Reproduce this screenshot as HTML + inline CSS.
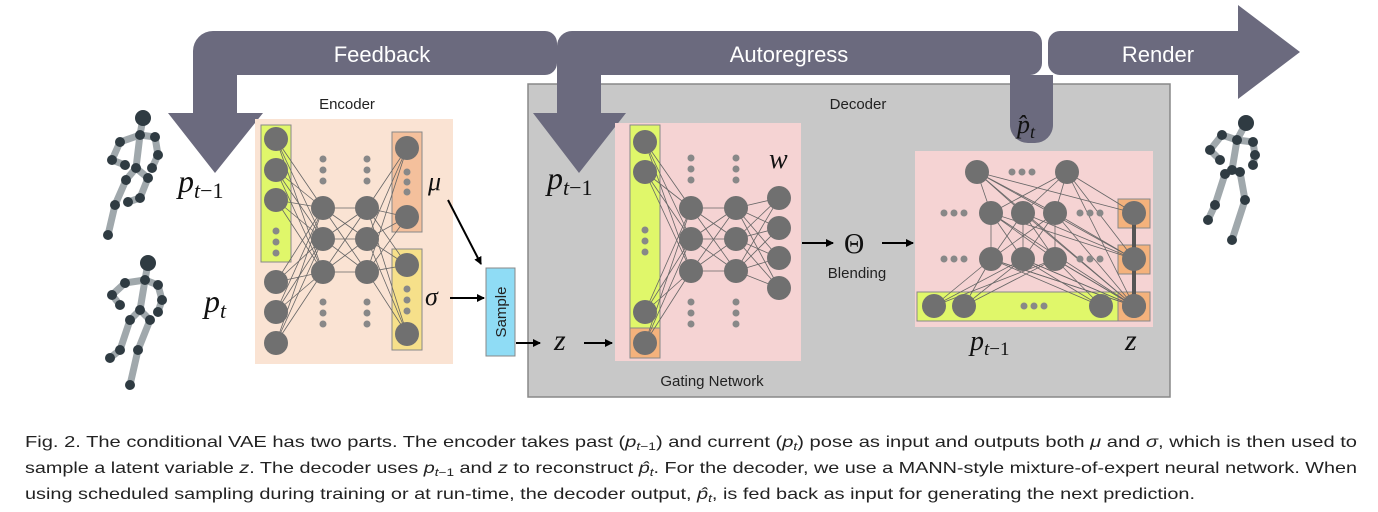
<!DOCTYPE html>
<html><head><meta charset="utf-8"><style>
html,body{margin:0;padding:0;background:#fff;}
svg{display:block}
.lbl{font-family:"Liberation Sans",sans-serif;fill:#fff;font-size:22px;text-anchor:middle}
.sm{font-family:"Liberation Sans",sans-serif;fill:#222;font-size:15px;text-anchor:middle}
.m{font-family:"Liberation Serif",serif;font-style:italic;fill:#111;}
.cap{font-family:"Liberation Sans",sans-serif;font-size:16px;fill:#222}
</style></head><body>
<svg id="s" width="1378" height="512" viewBox="0 0 1378 512" xmlns="http://www.w3.org/2000/svg">
<defs><marker id="ah" markerWidth="8" markerHeight="8" refX="7" refY="4" orient="auto" markerUnits="userSpaceOnUse"><path d="M0,0 L8,4 L0,8z" fill="#000"/></marker></defs>
<rect x="528" y="84" width="642" height="313" fill="#c8c8c8" stroke="#888" stroke-width="1.5"/>
<g fill="#6b6a7e">
<path d="M213,31 H545 a12,12 0 0 1 12,12 V63 a12,12 0 0 1 -12,12 H237 V113 H263 L215,173 L168,113 H193 V51 a20,20 0 0 1 20,-20z"/>
<path d="M572,31 H1030 a12,12 0 0 1 12,12 V63 a12,12 0 0 1 -12,12 H1053 V125 a18,18 0 0 1 -18,18 H1028 a18,18 0 0 1 -18,-18 V75 H601 V113 H626 L579,173 L533,113 H557 V46 a15,15 0 0 1 15,-15z"/>
<path d="M1060,31 H1238 V5 L1300,52 L1238,99 V75 H1060 a12,12 0 0 1 -12,-12 V43 a12,12 0 0 1 12,-12z"/>
</g>
<text class="lbl" x="382" y="62">Feedback</text>
<text class="lbl" x="789" y="62">Autoregress</text>
<text class="lbl" x="1158" y="62">Render</text>
<text class="sm" x="347" y="109">Encoder</text>
<text class="sm" x="858" y="109">Decoder</text>
<text class="sm" x="712" y="386">Gating Network</text>
<text class="sm" x="857" y="278">Blending</text>
<rect x="255" y="119" width="198" height="245" fill="#fae3d3"/>
<rect x="261" y="125" width="30" height="137" fill="#e0f76a" stroke="#888"/>
<rect x="392" y="132" width="30" height="100" fill="#f4c09c" stroke="#888"/>
<rect x="392" y="249" width="30" height="101" fill="#f6e08a" stroke="#888"/>
<rect x="615" y="123" width="186" height="238" fill="#f5d3d3"/>
<rect x="630" y="125" width="30" height="203" fill="#e0f76a" stroke="#888"/>
<rect x="630" y="328" width="30" height="30" fill="#f4b27c" stroke="#888"/>
<rect x="915" y="151" width="238" height="176" fill="#f5d3d3"/>
<rect x="917" y="292" width="201" height="29" fill="#e0f76a" stroke="#888"/>
<rect x="1118" y="199" width="32" height="29" fill="#f4b27c" stroke="#888"/>
<rect x="1118" y="245" width="32" height="29" fill="#f4b27c" stroke="#888"/>
<rect x="1118" y="292" width="32" height="29" fill="#f4b27c" stroke="#888"/>
<line x1="1134" y1="213" x2="1134" y2="306" stroke="#555" stroke-width="4"/>
<g id="lines" stroke="#666" stroke-width="0.8"></g>
<g id="nodes" fill="#707070"></g>
<rect x="486" y="268" width="29" height="88" fill="#8fdcf5" stroke="#888"/>
<text x="506" y="312" transform="rotate(-90 506 312)" style="font-family:'Liberation Sans',sans-serif;font-size:15px;text-anchor:middle;fill:#222">Sample</text>
<g stroke="#000" stroke-width="2" fill="none">
<line x1="448" y1="200" x2="481" y2="264" marker-end="url(#ah)"/>
<line x1="450" y1="298" x2="484" y2="298" marker-end="url(#ah)"/>
<line x1="516" y1="343" x2="540" y2="343" marker-end="url(#ah)"/>
<line x1="584" y1="343" x2="612" y2="343" marker-end="url(#ah)"/>
<line x1="802" y1="243" x2="833" y2="243" marker-end="url(#ah)"/>
<line x1="882" y1="243" x2="913" y2="243" marker-end="url(#ah)"/>
</g>
<g class="m">
<text x="178" y="192" font-size="32">p<tspan font-size="22" dy="6">t</tspan><tspan font-size="22" font-style="normal">−1</tspan></text>
<text x="204" y="312" font-size="32">p<tspan font-size="22" dy="6">t</tspan></text>
<text x="428" y="190" font-size="26">μ</text>
<text x="425" y="305" font-size="26">σ</text>
<text x="554" y="350" font-size="30">z</text>
<text x="547" y="189" font-size="32">p<tspan font-size="22" dy="6">t</tspan><tspan font-size="22" font-style="normal">−1</tspan></text>
<text x="769" y="168" font-size="28">w</text>
<text x="844" y="253" font-size="28" font-style="normal">Θ</text>
<text x="1017" y="133" font-size="26">p̂<tspan font-size="18" dy="5">t</tspan></text>
<text x="970" y="350" font-size="28">p<tspan font-size="19" dy="5">t</tspan><tspan font-size="19" font-style="normal">−1</tspan></text>
<text x="1125" y="350" font-size="30">z</text>
</g>
<g id="figs"></g>
<text class="cap" x="25" y="447" textLength="1332" lengthAdjust="spacingAndGlyphs">Fig. 2.  The conditional VAE has two parts. The encoder takes past (<tspan font-style="italic">p</tspan><tspan font-size="11" dy="3" font-style="italic">t</tspan><tspan font-size="11">−1</tspan><tspan dy="-3">) and current (</tspan><tspan font-style="italic">p</tspan><tspan font-size="11" dy="3" font-style="italic">t</tspan><tspan dy="-3">) pose as input and outputs both </tspan><tspan font-style="italic">μ</tspan> and <tspan font-style="italic">σ</tspan>, which is then used to</text>
<text class="cap" x="25" y="473" textLength="1332" lengthAdjust="spacingAndGlyphs">sample a latent variable <tspan font-style="italic">z</tspan>. The decoder uses <tspan font-style="italic">p</tspan><tspan font-size="11" dy="3" font-style="italic">t</tspan><tspan font-size="11">−1</tspan><tspan dy="-3"> and </tspan><tspan font-style="italic">z</tspan> to reconstruct <tspan font-style="italic">p̂</tspan><tspan font-size="11" dy="3" font-style="italic">t</tspan><tspan dy="-3">. For the decoder, we use a MANN-style mixture-of-expert neural network. When</tspan></text>
<text class="cap" x="25" y="499" textLength="1170" lengthAdjust="spacingAndGlyphs">using scheduled sampling during training or at run-time, the decoder output, <tspan font-style="italic">p̂</tspan><tspan font-size="11" dy="3" font-style="italic">t</tspan><tspan dy="-3">, is fed back as input for generating the next prediction.</tspan></text>
</svg>
<script>
(function(){
var NS="http://www.w3.org/2000/svg";
var L=document.getElementById("lines"),N=document.getElementById("nodes"),F=document.getElementById("figs");
function el(p,t,a){var e=document.createElementNS(NS,t);for(var k in a)e.setAttribute(k,a[k]);p.appendChild(e);return e;}
function ln(a,b){el(L,"line",{x1:a[0],y1:a[1],x2:b[0],y2:b[1]});}
function full(A,B){A.forEach(function(a){B.forEach(function(b){ln(a,b);});});}
function nd(P,r){P.forEach(function(p){el(N,"circle",{cx:p[0],cy:p[1],r:r});});}
function dotsV(x,y0,n,g){for(var i=0;i<n;i++)el(N,"circle",{cx:x,cy:y0+i*g,r:3.5,fill:"#888"});}
function dotsH(x0,y,n,g){for(var i=0;i<n;i++)el(N,"circle",{cx:x0+i*g,cy:y,r:3.5,fill:"#888"});}
var ei=[[276,139],[276,170],[276,200],[276,282],[276,312],[276,343]];
var eh1=[[323,208],[323,239],[323,272]],eh2=[[367,208],[367,239],[367,272]];
var eo=[[407,148],[407,217],[407,265],[407,334]];
full(ei,eh1);full(eh1,eh2);full(eh2,eo);
nd(ei,12);nd(eh1,12);nd(eh2,12);nd(eo,12);
dotsV(276,231,3,11);dotsV(323,159,3,11);dotsV(367,159,3,11);dotsV(323,302,3,11);dotsV(367,302,3,11);
dotsV(407,172,3,10);dotsV(407,289,3,11);
var gi=[[645,142],[645,172],[645,312],[645,343]];
var g1=[[691,208],[691,239],[691,271]],g2=[[736,208],[736,239],[736,271]];
var go=[[779,198],[779,228],[779,258],[779,288]];
full(gi,g1);full(g1,g2);full(g2,go);
nd(gi,12);nd(g1,12);nd(g2,12);nd(go,12);
dotsV(645,230,3,11);dotsV(691,158,3,11);dotsV(736,158,3,11);dotsV(691,302,3,11);dotsV(736,302,3,11);
var tp=[[977,172],[1067,172]],m1=[[991,213],[1023,213],[1055,213]],m2=[[991,259],[1023,259],[1055,259]];
var bot=[[934,306],[964,306],[1101,306],[1134,306]],zs=[[1134,213],[1134,259],[1134,306]];
full(bot,m2);full(m2,m1);full(m1,tp);full(tp,zs);full(m1,[[1134,306],[1134,259]]);full(m2,[[1134,306]]);
nd(tp,12);nd(m1,12);nd(m2,12);nd(bot,12);nd(zs,12);
dotsH(1012,172,3,10);dotsH(944,213,3,10);dotsH(1080,213,3,10);dotsH(944,259,3,10);dotsH(1080,259,3,10);dotsH(1024,306,3,10);
function fig(pts,bones){var g=el(F,"g",{});bones.forEach(function(b){el(g,"line",{x1:pts[b[0]][0],y1:pts[b[0]][1],x2:pts[b[1]][0],y2:pts[b[1]][1],stroke:"#a0a8ac","stroke-width":7,"stroke-linecap":"round"});});
pts.forEach(function(p,i){el(g,"circle",{cx:p[0],cy:p[1],r:i==0?8:5,fill:"#2f3b42"});});}
var B=[[0,1],[1,2],[1,3],[3,4],[4,5],[1,6],[6,7],[7,8],[2,9],[9,10],[10,11],[2,12],[12,13],[13,14]];
fig([[143,118],[140,135],[136,168],[120,142],[112,160],[125,165],[155,137],[158,155],[152,168],[126,180],[115,205],[108,235],[148,178],[140,198],[128,202]],B);
fig([[148,263],[145,280],[140,310],[125,283],[112,295],[120,305],[158,285],[162,300],[158,312],[130,320],[120,350],[110,358],[150,320],[138,350],[130,385]],B);
fig([[1246,123],[1237,140],[1232,170],[1222,135],[1210,150],[1220,160],[1253,142],[1255,155],[1253,165],[1225,174],[1215,205],[1208,220],[1240,172],[1245,200],[1232,240]],B);
})();
</script>
</body></html>
